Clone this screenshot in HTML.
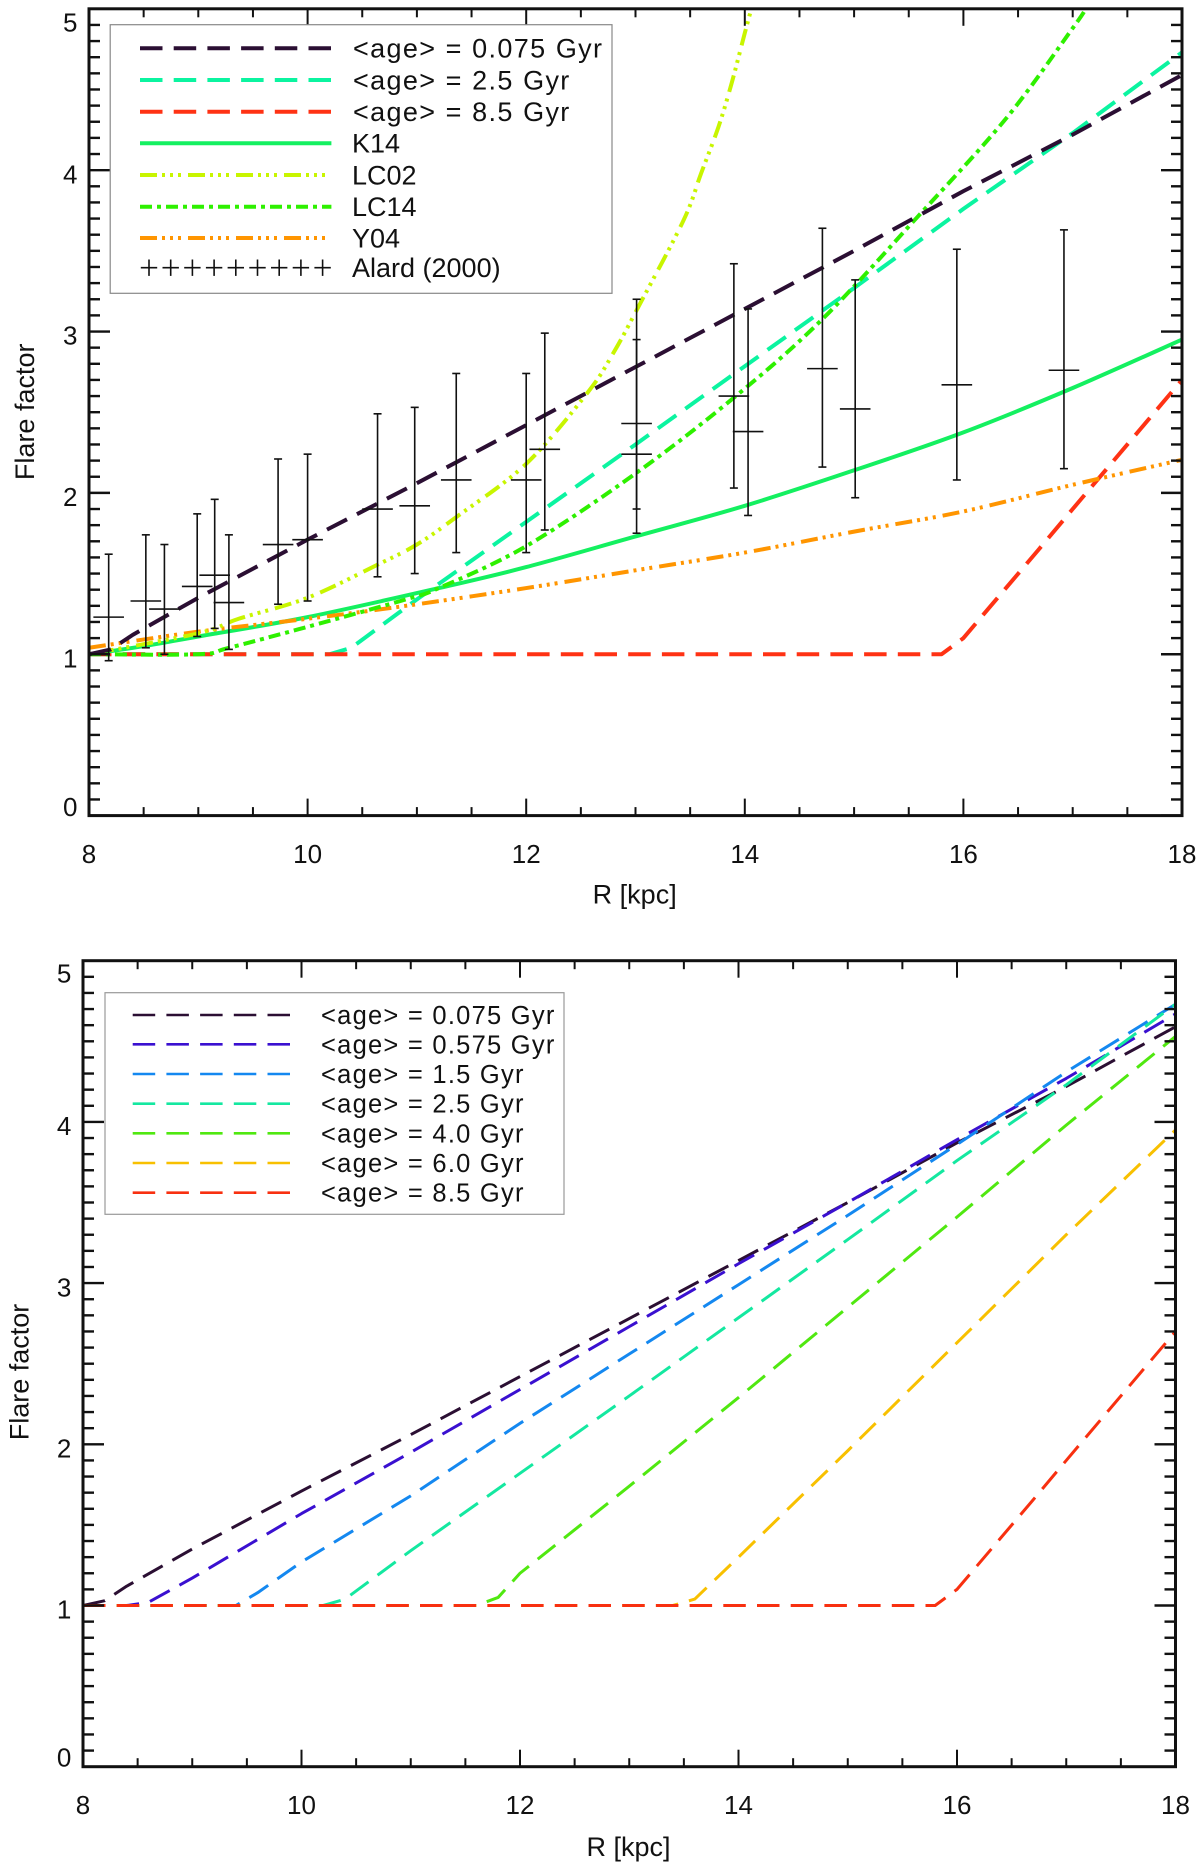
<!DOCTYPE html>
<html lang="en">
<head>
<meta charset="utf-8">
<title>Flare factor vs galactocentric radius</title>
<style>
html,body{margin:0;padding:0;background:#fff;}
svg{display:block;}
text{font-family:"Liberation Sans",sans-serif;fill:#111;}
.t{font-size:27px;}
.a{font-size:27px;letter-spacing:1.35px;word-spacing:.5px;}
.b{font-size:25.5px;letter-spacing:1.25px;}
</style>
</head>
<body>
<svg xmlns="http://www.w3.org/2000/svg" width="1200" height="1867" viewBox="0 0 1200 1867">
  <rect width="1200" height="1867" fill="#fff"/>
  <defs>
    <clipPath id="clip-top"><rect x="89" y="8.8" width="1093" height="806.8"/></clipPath>
    <clipPath id="clip-bottom"><rect x="83" y="960.7" width="1092.5" height="806"/></clipPath>
  </defs>

  <g id="top-panel"></g>
  <text class="t" x="634.7" y="903.6" text-anchor="middle">R [kpc]</text>
  <text class="t" transform="translate(34,411.8) rotate(-90)" text-anchor="middle">Flare factor</text>

  <g>
    <rect x="110.2" y="24.7" width="501.8" height="268.6" fill="#fff" stroke="#888" stroke-width="1.2"/>
    <line x1="140" x2="331.4" y1="48.3" y2="48.3" stroke="#2b0f33" stroke-width="4" stroke-dasharray="22.5 11.2"/>
    <line x1="140" x2="331.4" y1="80" y2="80" stroke="#0bf4a0" stroke-width="4" stroke-dasharray="22.5 11.2"/>
    <line x1="140" x2="331.4" y1="111.7" y2="111.7" stroke="#ff3214" stroke-width="4" stroke-dasharray="22.5 11.2"/>
    <line x1="140" x2="331.4" y1="143.3" y2="143.3" stroke="#14f060" stroke-width="4"/>
    <line x1="140" x2="331.4" y1="175" y2="175" stroke="#c8f500" stroke-width="4" stroke-dasharray="17 5 3 5 3 5 3 7"/>
    <line x1="140" x2="331.4" y1="206.7" y2="206.7" stroke="#2ef000" stroke-width="4" stroke-dasharray="12 5 4 5"/>
    <line x1="140" x2="331.4" y1="238" y2="238" stroke="#ff9500" stroke-width="4" stroke-dasharray="17 5 3 5 3 5 3 7"/>
    <g id="legend-crosses"></g>
    <text class="a" x="353" y="57.6">&lt;age&gt; = 0.075 Gyr</text>
    <text class="a" x="353" y="89.3">&lt;age&gt; = 2.5 Gyr</text>
    <text class="a" x="353" y="121">&lt;age&gt; = 8.5 Gyr</text>
    <text class="t" x="352" y="152.6">K14</text>
    <text class="t" x="352" y="184.3">LC02</text>
    <text class="t" x="352" y="216">LC14</text>
    <text class="t" x="352" y="247.3">Y04</text>
    <text class="t" x="352" y="277">Alard (2000)</text>
  </g>

  <g id="bottom-panel"></g>
  <text class="t" x="628.5" y="1856" text-anchor="middle">R [kpc]</text>
  <text class="t" transform="translate(28.5,1372) rotate(-90)" text-anchor="middle">Flare factor</text>

  <g>
    <rect x="105" y="992.7" width="459" height="221.6" fill="#fff" stroke="#999" stroke-width="1.2"/>
    <line x1="132.7" x2="290" y1="1015" y2="1015" stroke="#2b0f33" stroke-width="2.6" stroke-dasharray="22.5 11.2"/>
    <line x1="132.7" x2="290" y1="1044.3" y2="1044.3" stroke="#3a10d0" stroke-width="2.6" stroke-dasharray="22.5 11.2"/>
    <line x1="132.7" x2="290" y1="1074" y2="1074" stroke="#1488f0" stroke-width="2.6" stroke-dasharray="22.5 11.2"/>
    <line x1="132.7" x2="290" y1="1103.7" y2="1103.7" stroke="#14e8a0" stroke-width="2.6" stroke-dasharray="22.5 11.2"/>
    <line x1="132.7" x2="290" y1="1133.3" y2="1133.3" stroke="#50e810" stroke-width="2.6" stroke-dasharray="22.5 11.2"/>
    <line x1="132.7" x2="290" y1="1163" y2="1163" stroke="#f8c000" stroke-width="2.6" stroke-dasharray="22.5 11.2"/>
    <line x1="132.7" x2="290" y1="1192.7" y2="1192.7" stroke="#f83010" stroke-width="2.6" stroke-dasharray="22.5 11.2"/>
    <text class="b" x="321" y="1024">&lt;age&gt; = 0.075 Gyr</text>
    <text class="b" x="321" y="1053.3">&lt;age&gt; = 0.575 Gyr</text>
    <text class="b" x="321" y="1083">&lt;age&gt; = 1.5 Gyr</text>
    <text class="b" x="321" y="1112.7">&lt;age&gt; = 2.5 Gyr</text>
    <text class="b" x="321" y="1142.3">&lt;age&gt; = 4.0 Gyr</text>
    <text class="b" x="321" y="1172">&lt;age&gt; = 6.0 Gyr</text>
    <text class="b" x="321" y="1201.7">&lt;age&gt; = 8.5 Gyr</text>
  </g>
</svg>

<script>
// ---- axis tick labels ----
const xTickLabels = [8, 10, 12, 14, 16, 18];
const yTickLabels = [0, 1, 2, 3, 4, 5];

// ---- stellar-age flare series (R in kpc, flare factor) ----
const rAge0075 = [8, 8.2, 8.4, 9, 10, 11, 12, 13, 14, 15, 16, 17, 18];
const fAge0075 = [1, 1.03, 1.12, 1.35, 1.71, 2.06, 2.42, 2.78, 3.14, 3.5, 3.87, 4.22, 4.59];

const rAge0575 = [8, 8.4, 8.6, 9, 10, 11, 12, 13, 14, 15, 16, 17, 18];
const fAge0575 = [1, 1, 1.02, 1.17, 1.57, 1.95, 2.34, 2.73, 3.12, 3.5, 3.89, 4.27, 4.67];

const rAge15 = [8, 9.4, 9.6, 10, 11, 12, 13, 14, 15, 16, 17, 18];
const fAge15 = [1, 1, 1.08, 1.27, 1.68, 2.13, 2.56, 2.99, 3.42, 3.86, 4.31, 4.73];

const rAge25 = [8, 10.2, 10.4, 11, 12, 13, 14, 15, 16, 17, 18];
const fAge25 = [1, 1, 1.04, 1.34, 1.82, 2.3, 2.785, 3.27, 3.76, 4.23, 4.73];

const rAge40 = [8, 11.6, 11.8, 12, 13, 14, 15, 16, 17, 18];
const fAge40 = [1, 1, 1.05, 1.2, 1.74, 2.29, 2.85, 3.41, 3.98, 4.53];

const rAge60 = [8, 13.4, 13.6, 14, 15, 16, 17, 18];
const fAge60 = [1, 1, 1.04, 1.3, 1.96, 2.63, 3.3, 3.95];

const rAge85 = [8, 15.8, 16, 16.69, 17, 18];
const fAge85 = [1, 1, 1.1, 1.65, 1.9, 2.7];

// ---- literature models ----
const rK14 = [8, 8.5, 9, 10, 11.2, 12, 13, 14, 15, 16, 17, 18];
const fK14 = [1, 1.05, 1.11, 1.23, 1.41, 1.54, 1.73, 1.92, 2.14, 2.375, 2.65, 2.95];

const rLC02 = [8, 9, 9.37, 10, 10.64, 11, 11.36, 12, 12.56, 12.8, 13.04, 13.44, 13.6, 13.76, 13.88, 14, 14.06];
const fLC02 = [1, 1.13, 1.22, 1.35, 1.555, 1.68, 1.85, 2.18, 2.62, 2.87, 3.17, 3.69, 3.98, 4.27, 4.54, 4.85, 5];

const rLC14 = [8, 9, 9.28, 10, 10.9, 11.2, 12, 13, 13.9, 14.7, 15.58, 16.39, 17, 17.12];
const fLC14 = [1, 1, 1.04, 1.17, 1.34, 1.41, 1.67, 2.12, 2.59, 3.07, 3.71, 4.32, 4.88, 5];

const rY04 = [8, 9, 10, 10.9, 12, 13, 14, 15, 16, 17, 18];
const fY04 = [1.04, 1.14, 1.22, 1.3, 1.41, 1.52, 1.63, 1.76, 1.885, 2.05, 2.205];

// ---- Alard (2000) observations ----
const alardR = [8.18, 8.52, 8.69, 8.99, 9.15, 9.28, 9.73, 10, 10.64, 10.98, 11.36, 12, 12.17, 13.01, 13.01, 13.9, 14.03, 14.71, 15.01, 15.94, 16.92];
const alardF = [1.23, 1.33, 1.28, 1.42, 1.49, 1.32, 1.68, 1.71, 1.9, 1.92, 2.08, 2.08, 2.27, 2.43, 2.24, 2.6, 2.38, 2.77, 2.52, 2.67, 2.76];
const alardHi = [1.62, 1.74, 1.68, 1.87, 1.96, 1.74, 2.21, 2.24, 2.49, 2.53, 2.74, 2.74, 2.99, 3.2, 2.95, 3.42, 3.14, 3.64, 3.32, 3.51, 3.63];
const alardLo = [0.96, 1.04, 1, 1.11, 1.16, 1.03, 1.31, 1.33, 1.48, 1.5, 1.63, 1.63, 1.77, 1.9, 1.75, 2.03, 1.86, 2.16, 1.97, 2.08, 2.15];

const NS = 'http://www.w3.org/2000/svg';

function makeAxes(left, right, top, bottom) {
  return {
    left, right, top, bottom,
    x: function (r) { return left + (right - left) * (r - 8) / 10; },
    y: function (f) { return bottom - (bottom - top) * f / 5; }
  };
}

function drawLine(parent, name, x1, y1, x2, y2, width, color) {
  const el = document.createElementNS(NS, 'line');
  
  
  el.setAttribute('x1', x1);
  el.setAttribute('y1', y1);
  el.setAttribute('x2', x2);
  el.setAttribute('y2', y2);
  el.setAttribute('stroke', color);
  el.setAttribute('stroke-width', width);
  parent.appendChild(el);
  return el;
}

function straightPath(pts) {
  return 'M' + pts.map(function (p) { return p[0].toFixed(2) + ' ' + p[1].toFixed(2); }).join('L');
}

// Catmull-Rom through the read values, for the smooth model curves
function smoothPath(pts) {
  let d = 'M' + pts[0][0].toFixed(2) + ' ' + pts[0][1].toFixed(2);
  for (let i = 0; i < pts.length - 1; i++) {
    const p0 = pts[Math.max(0, i - 1)];
    const p1 = pts[i];
    const p2 = pts[i + 1];
    const p3 = pts[Math.min(pts.length - 1, i + 2)];
    const c1x = p1[0] + (p2[0] - p0[0]) / 6;
    const c1y = p1[1] + (p2[1] - p0[1]) / 6;
    const c2x = p2[0] - (p3[0] - p1[0]) / 6;
    const c2y = p2[1] - (p3[1] - p1[1]) / 6;
    d += 'C' + c1x.toFixed(2) + ' ' + c1y.toFixed(2) + ' ' + c2x.toFixed(2) + ' ' + c2y.toFixed(2) + ' ' + p2[0].toFixed(2) + ' ' + p2[1].toFixed(2);
  }
  return d;
}

function drawSeries(parent, axes, clipId, name, rs, fs, color, width, dash, smooth) {
  const pts = rs.map(function (r, i) { return [axes.x(r), axes.y(fs[i])]; });
  const el = document.createElementNS(NS, 'path');
  
  
  el.setAttribute('d', smooth ? smoothPath(pts) : straightPath(pts));
  el.setAttribute('fill', 'none');
  el.setAttribute('stroke', color);
  el.setAttribute('stroke-width', width);
  el.setAttribute('stroke-linejoin', 'round');
  el.setAttribute('clip-path', 'url(#' + clipId + ')');
  if (dash) el.setAttribute('stroke-dasharray', dash);
  parent.appendChild(el);
}

function drawLabel(parent, name, x, y, anchor, content) {
  const el = document.createElementNS(NS, 'text');
  
  
  el.setAttribute('x', x);
  el.setAttribute('y', y);
  el.setAttribute('text-anchor', anchor);
  el.setAttribute('font-size', '26');
  el.textContent = content;
  parent.appendChild(el);
}

function drawFrame(parent, axes, xBaseline, yRight, yMin, yMax) {
  for (let i = 0; i <= 20; i++) {
    const r = 8 + i * 0.5;
    const px = axes.x(r);
    const len = i % 4 === 0 ? 17 : 8.5;
    drawLine(parent, 'x-tick-bottom', px, axes.bottom, px, axes.bottom - len, 2, '#111');
    drawLine(parent, 'x-tick-top', px, axes.top, px, axes.top + len, 2, '#111');
  }
  for (let i = 0; i <= 50; i++) {
    const py = axes.y(i * 0.1);
    const len = i % 10 === 0 ? 21 : 11;
    drawLine(parent, 'y-tick-left', axes.left, py, axes.left + len, py, 2.4, '#111');
    drawLine(parent, 'y-tick-right', axes.right, py, axes.right - len, py, 2.4, '#111');
  }
  const frame = document.createElementNS(NS, 'rect');
  
  
  frame.setAttribute('x', axes.left);
  frame.setAttribute('y', axes.top);
  frame.setAttribute('width', axes.right - axes.left);
  frame.setAttribute('height', axes.bottom - axes.top);
  frame.setAttribute('fill', 'none');
  frame.setAttribute('stroke', '#111');
  frame.setAttribute('stroke-width', '3');
  parent.appendChild(frame);

  xTickLabels.forEach(function (v) {
    drawLabel(parent, 'x-tick-label', axes.x(v), xBaseline, 'middle', String(v));
  });
  yTickLabels.forEach(function (v) {
    const base = Math.min(yMax, Math.max(yMin, axes.y(v) + 13.2));
    drawLabel(parent, 'y-tick-label', yRight, base, 'end', String(v));
  });
}

// ---- top panel ----
const topAxes = makeAxes(89, 1182, 8.8, 815.6);
const topG = document.getElementById('top-panel');
const longDash = '22.5 11.2';
const dotDash = '17 5 3 5 3 5 3 7';
const dashDot = '12 5 4 5';

drawSeries(topG, topAxes, 'clip-top', 'series-age-25', rAge25, fAge25, '#0bf4a0', 4, longDash, false);
drawSeries(topG, topAxes, 'clip-top', 'series-age-85', rAge85, fAge85, '#ff3214', 4, longDash, false);
drawSeries(topG, topAxes, 'clip-top', 'series-k14', rK14, fK14, '#14f060', 4, null, true);
drawSeries(topG, topAxes, 'clip-top', 'series-y04', rY04, fY04, '#ff9500', 4, dotDash, true);
drawSeries(topG, topAxes, 'clip-top', 'series-lc02', rLC02, fLC02, '#c8f500', 4, dotDash, true);
drawSeries(topG, topAxes, 'clip-top', 'series-lc14', rLC14, fLC14, '#2ef000', 4, dashDot, true);
drawSeries(topG, topAxes, 'clip-top', 'series-age-0075', rAge0075, fAge0075, '#2b0f33', 4, longDash, false);

alardR.forEach(function (r, i) {
  const px = topAxes.x(r);
  drawLine(topG, 'alard-error-bar', px, topAxes.y(alardLo[i]), px, topAxes.y(alardHi[i]), 1.6, '#111');
  drawLine(topG, 'alard-cap-high', px - 4, topAxes.y(alardHi[i]), px + 4, topAxes.y(alardHi[i]), 1.6, '#111');
  drawLine(topG, 'alard-cap-low', px - 4, topAxes.y(alardLo[i]), px + 4, topAxes.y(alardLo[i]), 1.6, '#111');
  drawLine(topG, 'alard-point', px - 15.3, topAxes.y(alardF[i]), px + 15.3, topAxes.y(alardF[i]), 1.6, '#111');
});
drawFrame(topG, topAxes, 863, 77.5, 31.7, 816);

// legend "+" marker row
const crossG = document.getElementById('legend-crosses');
for (let i = 0; i < 9; i++) {
  const cx = 149 + i * 21.7;
  drawLine(crossG, 'legend-cross-horizontal', cx - 8.2, 267.7, cx + 8.2, 267.7, 1.6, '#111');
  drawLine(crossG, 'legend-cross-vertical', cx, 259.5, cx, 275.9, 1.6, '#111');
}

// ---- bottom panel ----
const botAxes = makeAxes(83, 1175.5, 960.7, 1766.7);
const botG = document.getElementById('bottom-panel');

drawSeries(botG, botAxes, 'clip-bottom', 'series-age-0075', rAge0075, fAge0075, '#2b0f33', 3, longDash, false);
drawSeries(botG, botAxes, 'clip-bottom', 'series-age-0575', rAge0575, fAge0575, '#3a10d0', 3, longDash, false);
drawSeries(botG, botAxes, 'clip-bottom', 'series-age-15', rAge15, fAge15, '#1488f0', 3, longDash, false);
drawSeries(botG, botAxes, 'clip-bottom', 'series-age-25', rAge25, fAge25, '#14e8a0', 3, longDash, false);
drawSeries(botG, botAxes, 'clip-bottom', 'series-age-40', rAge40, fAge40, '#50e810', 3, longDash, false);
drawSeries(botG, botAxes, 'clip-bottom', 'series-age-60', rAge60, fAge60, '#f8c000', 3, longDash, false);
drawSeries(botG, botAxes, 'clip-bottom', 'series-age-85', rAge85, fAge85, '#f83010', 3, longDash, false);
drawFrame(botG, botAxes, 1814, 71.4, 982.7, 1766.7);
</script>
</body>
</html>
